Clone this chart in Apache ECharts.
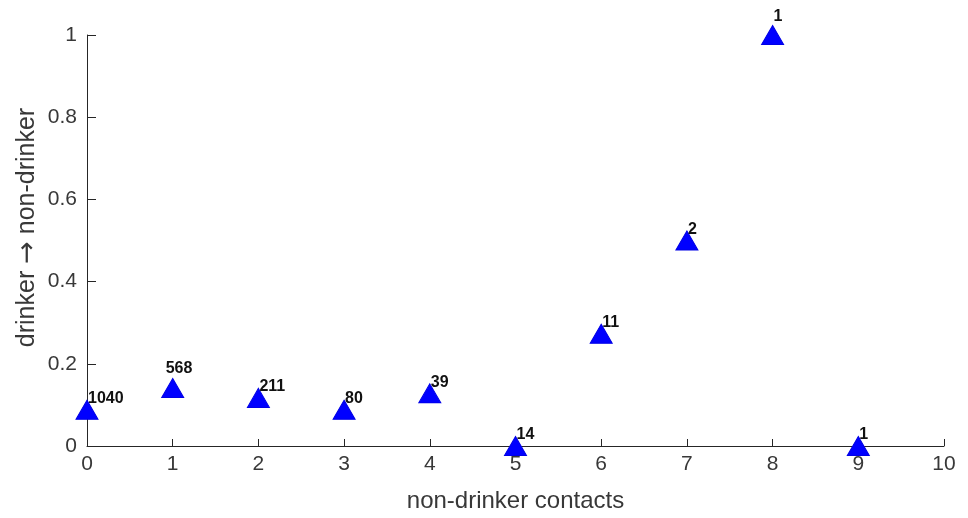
<!DOCTYPE html>
<html>
<head>
<meta charset="utf-8">
<script src="https://cdn.jsdelivr.net/npm/echarts@6/dist/echarts.min.js"></script>
<style>
  html, body { margin: 0; padding: 0; background: #fff; }
  #chart { width: 968px; height: 518px; }
</style>
</head>
<body>
<div id="chart"></div>
<script>
// Number of non-drinker contacts (x) and share of drinkers who became non-drinkers (y)
const contacts = [0, 1, 2, 3, 4, 5, 6, 7, 8, 9];
const transitionRate = [0.088, 0.141, 0.117, 0.088, 0.128, 0, 0.273, 0.5, 1, 0];
// Sample size behind each point, printed next to the marker
const sampleSize = [1040, 568, 211, 80, 39, 14, 11, 2, 1, 1];

const xTicks = { min: 0, max: 10, step: 1 };
const yTicks = { min: 0, max: 1, step: 0.2 };

// Default label placement: starts at the point's x, sits above the marker
const labelShift = { dx: 1, dy: -11 };
// A few labels sit a bit further away
const labelNudge = { 1: { dx: -7, dy: -19 }, 8: { dx: 1, dy: -18 } };

const axisColor = '#262626';
const textColor = '#383838';
const fontFamily = 'Liberation Sans, Arial, Helvetica, sans-serif';

const points = contacts.map((c, i) => [c, transitionRate[i]]);

const chart = echarts.init(document.getElementById('chart'), null, { renderer: 'canvas' });

chart.setOption({
  animation: false,
  backgroundColor: '#ffffff',
  grid: { left: 87, right: 24, top: 35, bottom: 67, containLabel: false },
  xAxis: {
    type: 'value',
    min: xTicks.min,
    max: xTicks.max,
    interval: xTicks.step,
    name: 'non-drinker contacts',
    nameLocation: 'middle',
    nameGap: 43,
    nameMoveOverlap: false,
    nameTextStyle: { fontFamily, fontSize: 24, color: textColor },
    axisLine: { show: true, onZero: false, lineStyle: { color: axisColor, width: 1 } },
    axisTick: { show: true, inside: true, length: 7, lineStyle: { color: axisColor } },
    axisLabel: { fontFamily, fontSize: 21, color: textColor, margin: 8 },
    splitLine: { show: false }
  },
  yAxis: {
    type: 'value',
    min: yTicks.min,
    max: yTicks.max,
    interval: yTicks.step,
    name: 'drinker {arrow|\u2192} non-drinker',
    nameLocation: 'middle',
    nameGap: 46,
    nameMoveOverlap: false,
    nameTextStyle: {
      fontFamily, fontSize: 25, color: textColor,
      padding: [0, 0, 0, 26],
      rich: { arrow: { fontFamily: 'DejaVu Sans', fontSize: 27, color: textColor } }
    },
    axisLine: { show: true, onZero: false, lineStyle: { color: axisColor, width: 1 } },
    axisTick: { show: true, inside: true, length: 9, lineStyle: { color: axisColor } },
    axisLabel: { fontFamily, fontSize: 21, color: textColor, margin: 10 },
    splitLine: { show: false }
  },
  series: [{
    type: 'scatter',
    symbol: 'triangle',
    symbolSize: [22, 19],
    itemStyle: { color: '#0000ff', opacity: 1, borderColor: '#0000e6', borderWidth: 1 },
    label: {
      show: true,
      position: 'inside',
      align: 'left',
      verticalAlign: 'middle',
      formatter: p => String(sampleSize[p.dataIndex]),
      fontFamily,
      fontSize: 16,
      fontWeight: 'bold',
      color: '#111111'
    },
    labelLayout: p => {
      const s = labelNudge[p.dataIndex] || labelShift;
      return { dx: s.dx, dy: s.dy, hideOverlap: false };
    },
    data: points,
    z: 3
  }]
});
</script>
</body>
</html>
